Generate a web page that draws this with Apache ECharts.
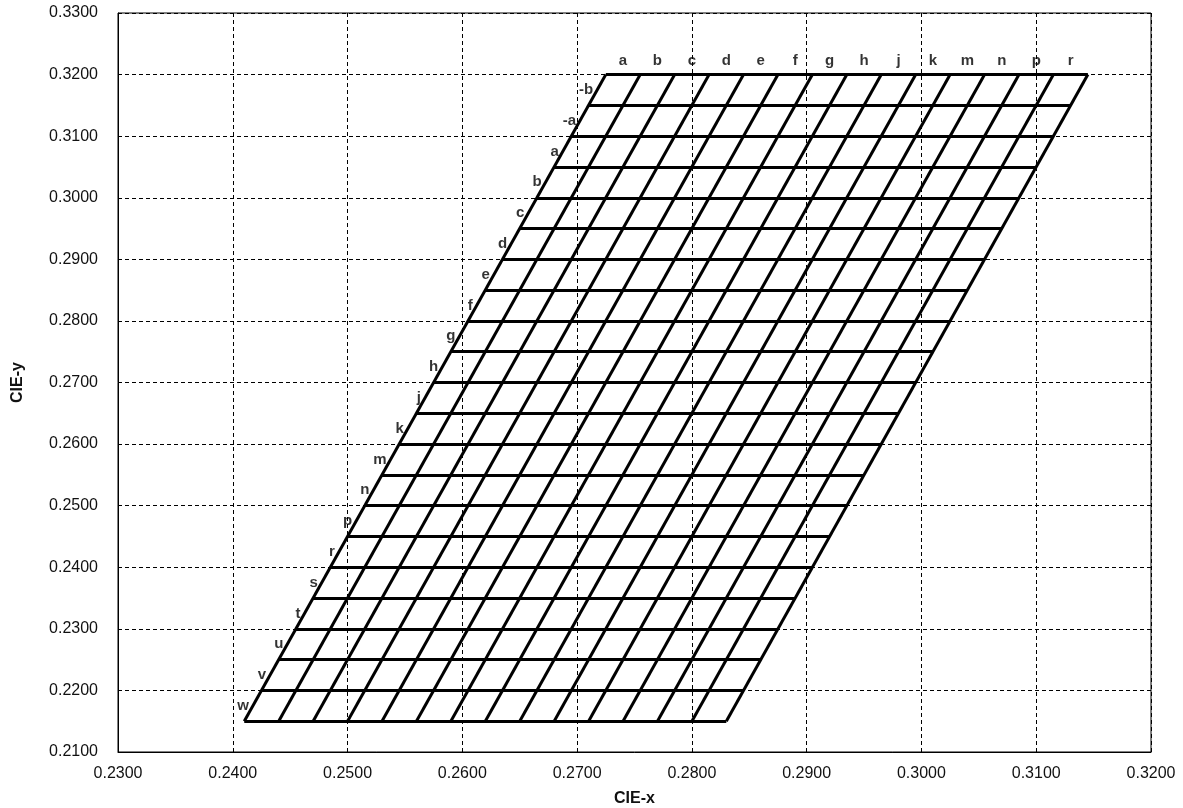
<!DOCTYPE html>
<html>
<head>
<meta charset="utf-8">
<script src="https://cdn.jsdelivr.net/npm/echarts@6/dist/echarts.min.js"></script>
<style>html,body{margin:0;padding:0;background:#fff}#c{width:1183px;height:808px}</style>
</head>
<body>
<div id="c"></div>
<script>
// Horizontal grid levels (CIE-y) and left-edge x of each level
const yLevels = [0.215,0.220,0.225,0.230,0.235,0.240,0.245,0.250,0.255,0.260,0.265,0.270,0.275,0.280,0.285,0.290,0.295,0.300,0.305,0.310,0.315,0.320];
const leftX   = [0.2410,0.2425,0.2440,0.2455,0.2470,0.2485,0.2500,0.2515,0.2530,0.2545,0.2560,0.2575,0.2590,0.2605,0.2620,0.2635,0.2650,0.2665,0.2680,0.2695,0.2710,0.2725];
const rightX  = [0.2830,0.2845,0.2860,0.2875,0.2890,0.2905,0.2920,0.2935,0.2950,0.2965,0.2980,0.2995,0.3010,0.3025,0.3040,0.3055,0.3070,0.3085,0.3100,0.3115,0.3130,0.3145];
// Slanted column boundaries: x at bottom (y=0.215) and top (y=0.320)
const bottomX = [0.2410,0.2440,0.2470,0.2500,0.2530,0.2560,0.2590,0.2620,0.2650,0.2680,0.2710,0.2740,0.2770,0.2800,0.2830];
const topX    = [0.2725,0.2755,0.2785,0.2815,0.2845,0.2875,0.2905,0.2935,0.2965,0.2995,0.3025,0.3055,0.3085,0.3115,0.3145];
// Column labels (top) and row labels (left, top to bottom)
const colLabels = ['a','b','c','d','e','f','g','h','j','k','m','n','p','r'];
const rowLabels = ['-b','-a','a','b','c','d','e','f','g','h','j','k','m','n','p','r','s','t','u','v','w'];
// Row label anchor points (mid-row y, left edge x)
const rowMidY = [0.3175,0.3125,0.3075,0.3025,0.2975,0.2925,0.2875,0.2825,0.2775,0.2725,0.2675,0.2625,0.2575,0.2525,0.2475,0.2425,0.2375,0.2325,0.2275,0.2225,0.2175];
const rowLeftX = [0.27175,0.27025,0.26875,0.26725,0.26575,0.26425,0.26275,0.26125,0.25975,0.25825,0.25675,0.25525,0.25375,0.25225,0.25075,0.24925,0.24775,0.24625,0.24475,0.24325,0.24175];
// Column label anchors (column centre on top line)
const colMidX = [0.2740,0.2770,0.2800,0.2830,0.2860,0.2890,0.2920,0.2950,0.2980,0.3010,0.3040,0.3070,0.3100,0.3130];
const topY = 0.320, bottomY = 0.215;

const hLines = yLevels.map((y,i)=>({coords:[[leftX[i],y],[rightX[i],y]]}));
const sLines = bottomX.map((x,i)=>({coords:[[x,bottomY],[topX[i],topY]]}));

const FF = 'Liberation Sans, Arial, sans-serif';
const chart = echarts.init(document.getElementById('c'));
const axisFont = {fontFamily:FF, fontSize:16, color:'#111'};
chart.setOption({
  animation:false,
  backgroundColor:'#fff',
  grid:{left:118,right:32,top:13,bottom:56,show:true,borderColor:'#000',borderWidth:1,containLabel:false,outerBoundsMode:'none'},
  xAxis:{type:'value',min:0.23,max:0.32,interval:0.01,
    name:'CIE-x',nameLocation:'middle',nameGap:39,
    nameTextStyle:{fontFamily:FF,fontSize:16,fontWeight:'bold',color:'#111'},
    axisLine:{show:true,onZero:false,lineStyle:{color:'#000',width:1}},
    axisTick:{show:false},
    axisLabel:Object.assign({margin:14,formatter:v=>v.toFixed(4)},axisFont),
    splitLine:{show:true,lineStyle:{color:'#000',width:1,type:[4,3]}}
  },
  yAxis:{type:'value',min:0.21,max:0.33,interval:0.01,
    name:'CIE-y',nameLocation:'middle',nameGap:92,
    nameTextStyle:{fontFamily:FF,fontSize:16,fontWeight:'bold',color:'#111'},
    axisLine:{show:true,onZero:false,lineStyle:{color:'#000',width:1}},
    axisTick:{show:false},
    axisLabel:Object.assign({margin:20,formatter:v=>v.toFixed(4)},axisFont),
    splitLine:{show:true,lineStyle:{color:'#000',width:1,type:[4,3]}}
  },
  series:[
    {type:'lines',coordinateSystem:'cartesian2d',data:hLines,lineStyle:{color:'#000',width:3,opacity:1},silent:true,z:3},
    {type:'lines',coordinateSystem:'cartesian2d',data:sLines,lineStyle:{color:'#000',width:3,opacity:1},silent:true,z:3},
    {type:'scatter',symbolSize:0,silent:true,z:4,
      data:colLabels.map((t,i)=>({value:[colMidX[i],topY],name:t})),
      label:{show:true,position:'top',distance:6,formatter:p=>p.name,fontFamily:FF,fontSize:15,fontWeight:'bold',color:'#000'}},
    {type:'scatter',symbolSize:0,silent:true,z:4,
      data:rowLabels.map((t,i)=>({value:[rowLeftX[i],rowMidY[i]],name:t})),
      label:{show:true,position:'left',distance:4,formatter:p=>p.name,fontFamily:FF,fontSize:15,fontWeight:'bold',color:'#000'}}
  ]
});
</script>
</body>
</html>
